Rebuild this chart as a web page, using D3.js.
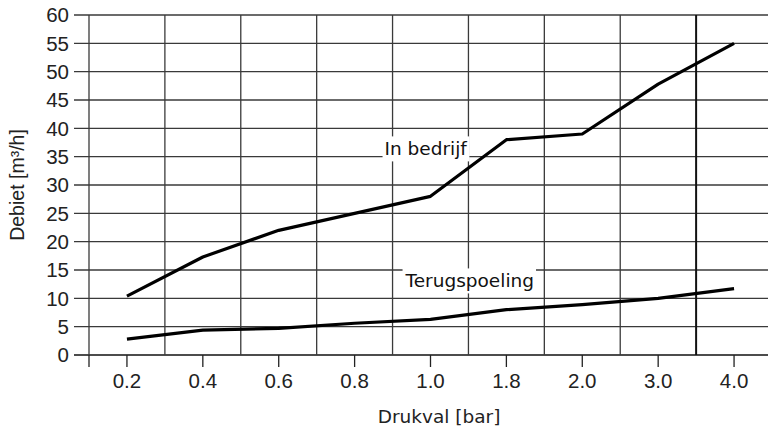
<!DOCTYPE html>
<html>
<head>
<meta charset="utf-8">
<script src="https://cdn.jsdelivr.net/npm/d3@7"></script>
<style>
  body { margin: 0; background: #fff; }
  svg { display: block; }
</style>
</head>
<body>
<div id="content"></div>
<script>
// data
const categories = ["0.2", "0.4", "0.6", "0.8", "1.0", "1.8", "2.0", "3.0", "4.0"];
const inBedrijf = [10.4, 17.3, 22.0, 25.0, 28.0, 38.0, 39.0, 47.8, 55.0];
const terugspoeling = [2.8, 4.4, 4.7, 5.6, 6.3, 8.0, 8.9, 10.0, 11.7];
const yTicks = [0, 5, 10, 15, 20, 25, 30, 35, 40, 45, 50, 55, 60];

const svgWidth = 768, svgHeight = 432;
const margin = { top: 15, right: 0, bottom: 77, left: 89 };
const height = svgHeight - margin.top - margin.bottom;

const svg = d3.select("#content")
    .append("svg")
    .attr("width", svgWidth)
    .attr("height", svgHeight);
const g = svg.append("g")
    .attr("transform", `translate(${margin.left}, ${margin.top})`);

// band per category: grid lines sit on band edges, points in the middle
const x = d3.scaleBand()
    .domain(categories)
    .range([0, 683]);
const y = d3.scaleLinear()
    .domain([0, 60])
    .range([height, 0]);

const gridColor = "#3a3a3a";
const tickFont = "'Liberation Sans', Arial, sans-serif";
const labelFont = "'DejaVu Sans', sans-serif";

// horizontal grid + left ticks
g.append("g")
    .selectAll("line")
    .data(yTicks)
    .join("line")
    .attr("x1", -15)
    .attr("x2", svgWidth - margin.left)
    .attr("y1", d => y(d))
    .attr("y2", d => y(d))
    .attr("stroke", d => d === 0 ? "#111" : gridColor)
    .attr("stroke-width", d => d === 0 ? 1.6 : 1.3);

// vertical grid lines on band edges
g.append("g")
    .selectAll("line")
    .data(categories)
    .join("line")
    .attr("x1", d => x(d))
    .attr("x2", d => x(d))
    .attr("y1", 0)
    .attr("y2", height)
    .attr("stroke", (d, i) => i === categories.length - 1 ? "#111" : gridColor)
    .attr("stroke-width", (d, i) => i === categories.length - 1 ? 2 : 1.3);

// y tick labels
g.append("g")
    .selectAll("text")
    .data(yTicks)
    .join("text")
    .attr("x", -20)
    .attr("y", d => y(d))
    .attr("dy", "0.36em")
    .attr("text-anchor", "end")
    .style("font-family", tickFont)
    .style("font-size", "20.5px")
    .style("fill", "#222")
    .text(d => d);

// x ticks and labels
const xc = d => x(d) + x.bandwidth() / 2;
const xAxis = g.append("g").attr("transform", `translate(0, ${height})`);
xAxis.selectAll("line")
    .data([categories[0]].concat(categories))
    .join("line")
    .attr("x1", (d, i) => i === 0 ? 0 : xc(d))
    .attr("x2", (d, i) => i === 0 ? 0 : xc(d))
    .attr("y1", 0)
    .attr("y2", 12)
    .attr("stroke", "#222")
    .attr("stroke-width", 1.3);
xAxis.selectAll("text")
    .data(categories)
    .join("text")
    .attr("x", d => xc(d))
    .attr("y", 26)
    .attr("dy", "0.36em")
    .attr("text-anchor", "middle")
    .style("font-family", tickFont)
    .style("font-size", "20.5px")
    .style("fill", "#222")
    .text(d => d);

// lines
const line = d3.line()
    .x((d, i) => xc(categories[i]))
    .y(d => y(d));

[inBedrijf, terugspoeling].forEach(series => {
    g.append("path")
        .datum(series)
        .attr("d", line)
        .attr("fill", "none")
        .attr("stroke", "#000")
        .attr("stroke-width", 3.2)
        .attr("stroke-linejoin", "round");
});

// in-chart labels with white boxes
function addLabel(text, left, cy) {
    const lg = g.append("g");
    const rect = lg.append("rect").attr("fill", "#fff");
    const t = lg.append("text")
        .attr("x", left)
        .attr("y", cy)
        .attr("dy", "0.36em")
        .style("font-family", labelFont)
        .style("font-size", "18.5px")
        .style("fill", "#111")
        .text(text);
    const bb = t.node().getBBox();
    rect.attr("x", bb.x - 2)
        .attr("y", bb.y - 2)
        .attr("width", bb.width + 4)
        .attr("height", bb.height + 4);
}
addLabel("In bedrijf", x("1.0") - 8, y(36.4));
addLabel("Terugspoeling", x("1.0") + 13, y(13.1));

// axis titles
svg.append("text")
    .attr("transform", `translate(17, ${margin.top + height / 2}) rotate(-90)`)
    .attr("text-anchor", "middle")
    .attr("dy", "0.36em")
    .style("font-family", tickFont)
    .style("font-size", "19.5px")
    .style("fill", "#222")
    .text("Debiet [m³/h]");

svg.append("text")
    .attr("x", 439)
    .attr("y", 416)
    .attr("dy", "0.36em")
    .attr("text-anchor", "middle")
    .style("font-family", labelFont)
    .style("font-size", "18.5px")
    .style("fill", "#222")
    .text("Drukval [bar]");
</script>
</body>
</html>
